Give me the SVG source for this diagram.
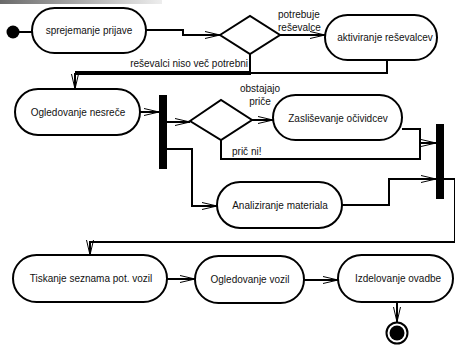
<svg xmlns="http://www.w3.org/2000/svg" width="455" height="348" viewBox="0 0 455 348">
  <defs>
    <linearGradient id="topBar" x1="0" y1="0" x2="1" y2="0">
      <stop offset="0" stop-color="#6a6a6a"/>
      <stop offset="1" stop-color="#eeeeee"/>
    </linearGradient>
    <marker id="arrow" markerUnits="userSpaceOnUse" markerWidth="16" markerHeight="10" refX="15" refY="4" orient="auto">
      <path d="M0,0.5 L15,4 L0,7.5" fill="none" stroke="#000" stroke-width="1"/>
    </marker>
  </defs>
  <style>
    .action { fill: #fff; stroke: #000; stroke-width: 2; }
    .decision { fill: #fff; stroke: #000; stroke-width: 2; }
    .bar { fill: #000; }
    .label { font-family: "Liberation Sans", Arial, sans-serif; font-size: 10px; fill: #111; text-anchor: middle; }
    .guard { font-family: "Liberation Sans", Arial, sans-serif; font-size: 10px; fill: #111; }
    .flow { fill: none; stroke: #000; stroke-width: 2; }
    .arr { marker-end: url(#arrow); }
  </style>

  <rect x="0" y="0" width="162" height="4" fill="url(#topBar)"/>

  <!-- connectors -->
  <g id="connectors">
    <path class="flow" d="M19,32 H32"/>
    <path class="flow arr" d="M146,30 H183 V35 H220"/>
    <path class="flow arr" d="M280,35 H325"/>
    <path class="flow" d="M387,60 V73 H251"/>
    <path class="flow" d="M250,54 V73" />
    <path class="flow" d="M251,72 H75" />
    <path class="flow arr" d="M251,74 H75 V89"/>
    <path class="flow arr" d="M140,112 H159"/>
    <path class="flow arr" d="M167,122 H190"/>
    <path class="flow arr" d="M167,149 H192 V206 H217"/>
    <path class="flow arr" d="M252,120 H273"/>
    <path class="flow" d="M221,140 V159 H420 V143"/>
    <path class="flow arr" d="M402,129 H420 V143 H436"/>
    <path class="flow arr" d="M342,205 H389 V179 H436"/>
    <path class="flow arr" d="M444,179 H455 V242 H90 V255"/>
    <path class="flow arr" d="M167,279 H195"/>
    <path class="flow arr" d="M304,280 H338"/>
    <path class="flow arr" d="M397,302 V322"/>
  </g>

  <!-- guard labels -->
  <text class="guard" x="278" y="18">potrebuje</text>
  <text class="guard" x="278" y="31">reševalce</text>
  <text class="guard" x="248" y="67" text-anchor="end">reševalci niso več potrebni</text>
  <text class="guard" x="260" y="92" text-anchor="middle">obstajajo</text>
  <text class="guard" x="260" y="105" text-anchor="middle">priče</text>
  <text class="guard" x="232" y="155">prič ni!</text>

  <g id="start">
    <circle cx="13" cy="32" r="6.5" fill="#000"/>
  </g>

  <g id="sprejemanje">
    <rect class="action" x="32" y="8" width="114" height="45" rx="22.5"/>
    <text class="label" x="89" y="34">sprejemanje prijave</text>
  </g>

  <g id="decision1">
    <polygon class="decision" points="220,35 250,16 280,35 250,54"/>
  </g>

  <g id="aktiviranje">
    <rect class="action" x="325" y="15" width="112" height="45" rx="22.5"/>
    <text class="label" x="385" y="41">aktiviranje reševalcev</text>
  </g>

  <g id="ogledovanjeNesrece">
    <rect class="action" x="15" y="89" width="125" height="46" rx="23"/>
    <text class="label" x="78" y="116">Ogledovanje nesreče</text>
  </g>

  <g id="fork1">
    <rect class="bar" x="159" y="95" width="8" height="74"/>
  </g>

  <g id="decision2">
    <polygon class="decision" points="190,121 221,100 252,120 221,140"/>
  </g>

  <g id="zaslisevanje">
    <rect class="action" x="273" y="95" width="129" height="45" rx="22.5"/>
    <text class="label" x="338" y="122">Zasliševanje očividcev</text>
  </g>

  <g id="analiziranje">
    <rect class="action" x="217" y="182" width="125" height="46" rx="23"/>
    <text class="label" x="280" y="209">Analiziranje materiala</text>
  </g>

  <g id="join1">
    <rect class="bar" x="436" y="124" width="8" height="75"/>
  </g>

  <g id="tiskanje">
    <rect class="action" x="13" y="255" width="154" height="47" rx="23.5"/>
    <text class="label" x="91" y="282">Tiskanje seznama pot. vozil</text>
  </g>

  <g id="ogledovanjeVozil">
    <rect class="action" x="195" y="256" width="109" height="47" rx="23.5"/>
    <text class="label" x="250" y="283">Ogledovanje vozil</text>
  </g>

  <g id="izdelovanje">
    <rect class="action" x="338" y="255" width="115" height="47" rx="23.5"/>
    <text class="label" x="398" y="282">Izdelovanje ovadbe</text>
  </g>

  <g id="end">
    <circle cx="397" cy="333" r="10.5" fill="#fff" stroke="#000" stroke-width="2"/>
    <circle cx="397" cy="333" r="7.5" fill="#000"/>
  </g>
</svg>
